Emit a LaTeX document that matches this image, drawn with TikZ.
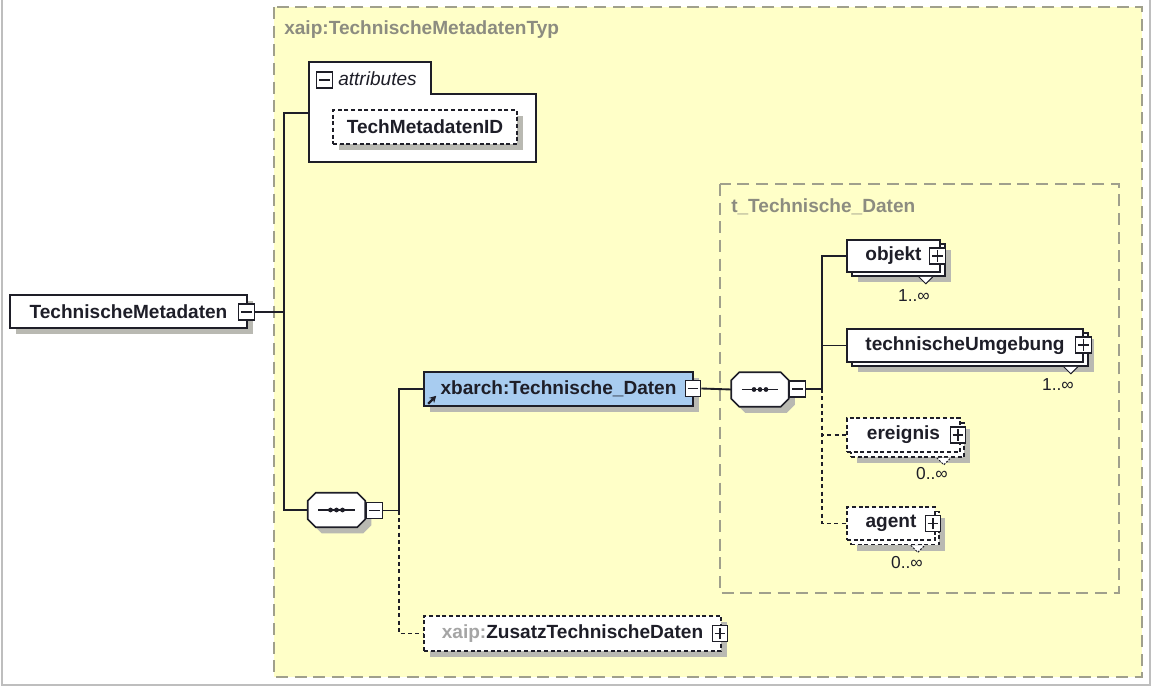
\documentclass[tikz,border=0pt]{standalone}
\usepackage{fontspec}
\setmainfont{Liberation Sans}
\usetikzlibrary{shadows,arrows.meta}
\definecolor{typefill}{RGB}{255,255,200}
\definecolor{typeline}{RGB}{160,160,140}
\definecolor{typetext}{RGB}{140,140,128}
\definecolor{nsgray}{RGB}{165,165,165}
\definecolor{elemblue}{RGB}{168,204,240}
\definecolor{ink}{RGB}{30,30,40}
\definecolor{shadowc}{RGB}{185,185,178}
\definecolor{framec}{RGB}{190,190,190}
\tikzset{
  bw/.style={minimum width=#1*0.75pt},
  bh/.style={minimum height=#1*0.75pt},
  elname/.style={font=\fontsize{14.3}{16}\selectfont\bfseries, text=ink},
  elbox/.style={draw=ink, line width=1.2pt, fill=white, inner sep=0pt, elname},
  shad/.style={drop shadow={shadow xshift=4.5pt, shadow yshift=-4.5pt, fill=shadowc, opacity=1}},
  optbox/.style={elbox, dash pattern=on 3pt off 2pt},
  sign/.style={draw=ink, line width=0.9pt, fill=white, inner sep=0pt, minimum width=11.5pt, minimum height=12pt},
  minusbox/.style={sign, path picture={\draw[ink, line width=0.9pt] ([xshift=1.8pt]path picture bounding box.west) -- ([xshift=-1.8pt]path picture bounding box.east);}},
  plusbox/.style={sign, path picture={\draw[ink, line width=0.9pt] ([xshift=1.8pt]path picture bounding box.west) -- ([xshift=-1.8pt]path picture bounding box.east); \draw[ink, line width=0.9pt] ([yshift=1.8pt]path picture bounding box.south) -- ([yshift=-1.8pt]path picture bounding box.north);}},
  seqnode/.style={rectangle, draw=none, inner sep=0pt, bw=57, bh=34},
  seqline/.style={draw=ink, line width=1.2pt, fill=white},
  conn/.style={draw=ink, line width=1.4pt},
  optconn/.style={draw=ink, line width=1.4pt, dash pattern=on 3pt off 2.5pt},
  typebox/.style={draw=typeline, line width=1.1pt, dash pattern=on 9pt off 5pt, fill=typefill},
  typelabel/.style={font=\fontsize{14.3}{16}\selectfont\bfseries, text=typetext, anchor=west, inner sep=0pt},
  mult/.style={font=\fontsize{13}{15}\selectfont, text=ink, inner sep=0pt},
  notch/.style={draw=ink, line width=0.7pt, fill=white},
}
% octagon outline around a node, shifted by (#2,#3) px
\newcommand\octpath[3]{([shift={(8+#2,#3)}]#1.north west) -- ([shift={(-8+#2,#3)}]#1.north east) -- ([shift={(#2,8+#3)}]#1.north east) -- ([shift={(#2,-8+#3)}]#1.south east) -- ([shift={(-8+#2,#3)}]#1.south east) -- ([shift={(8+#2,#3)}]#1.south west) -- ([shift={(#2,-8+#3)}]#1.south west) -- ([shift={(#2,8+#3)}]#1.north west) -- cycle}
\newcommand\seqdraw[1]{%
  \fill[shadowc] \octpath{#1}{6}{6};
  \draw[seqline] \octpath{#1}{0}{0};
  \draw[ink, line width=1.2pt] ([xshift=8pt]#1.west) -- ([xshift=-8pt]#1.east);
  \foreach \d in {-4.5pt,0pt,4.5pt} \fill[ink] ([xshift=\d]#1.center) circle (1.8pt);
}
\begin{document}
\begin{tikzpicture}[x=0.75pt,y=-0.75pt]
\fill[white] (0,0) rectangle (1163,691);
\useasboundingbox (0,0) rectangle (1163,691);
\draw[framec, line width=1pt] (2,0) -- (2,685) -- (1150,685) -- (1150,0);

% type boxes
\draw[typebox] (274,7) rectangle (1142,677);
\node[typelabel] (tlab1) at (284,30) {xaip:TechnischeMetadatenTyp};
\draw[typebox] (720,184) rectangle (1119,593);
\node[typelabel] (tlab2) at (731,207) {t\_Technische\_Daten};

% root element
\node[elbox, shad, bw=237, bh=33] (tm) at (128.5,311.5) {TechnischeMetadaten};
\node[minusbox] (tmm) at (246.5,312) {};

% attributes group
\draw[draw=ink, line width=1.2pt, fill=white] (309,162) -- (309,62) -- (431,62) -- (431,94) -- (536,94) -- (536,162) -- cycle;
\coordinate (attrin) at (309,113);
\node[minusbox] (attrm) at (324.5,80) {};
\node[font=\fontsize{14.3}{16}\selectfont\itshape, text=ink, anchor=west, inner sep=0pt] (attrlbl) at (338,79) {attributes};
\node[optbox, shad, bw=184, bh=34] (techid) at (425,127) {TechMetadatenID};

% first sequence
\node[seqnode] (seq1) at (336.5,510) {};
\seqdraw{seq1}
\node[minusbox] (s1m) at (374.5,510.5) {};
\coordinate (j1) at (284,312);
\coordinate (j2) at (399,510.5);

% xbarch element
\node[elbox, fill=elemblue, shad, bw=269, bh=34] (xb) at (558.5,389) {xbarch:Technische\_Daten};
\node[minusbox] (xbm) at (693,388.5) {};
\draw[ink, line width=1.6pt, -{Stealth[length=5pt,width=5.5pt]}] ([shift={(5,-3)}]xb.south west) -- ([shift={(13,-11)}]xb.south west);

% Zusatz element
\node[optbox, shad, bw=297, bh=35] (zus) at (572.5,633.5) {\textcolor{nsgray}{xaip:}ZusatzTechnischeDaten};
\node[plusbox] (zusp) at (720,633.5) {};

% second sequence
\node[seqnode] (seq2) at (760,389.5) {};
\seqdraw{seq2}
\node[minusbox] (s2m) at (797.5,389) {};
\coordinate (j3) at (822,389);

% children
\node[elbox, shad, bw=93, bh=32] (objbk) at (898.5,260) {};
\draw[notch] ([shift={(-27,0)}]objbk.south east) -- ([shift={(-20,7)}]objbk.south east) -- ([shift={(-13,0)}]objbk.south east);
\node[elbox, bw=93, bh=32] (obj) at (893.5,256) {objekt};
\node[plusbox] (objp) at (937.5,256) {};
\node[mult] (objm) at (914,296) {1..∞};

\node[elbox, shad, bw=236, bh=33] (tubk) at (970,349.5) {};
\draw[notch] ([shift={(-25,0)}]tubk.south east) -- ([shift={(-18,7)}]tubk.south east) -- ([shift={(-11,0)}]tubk.south east);
\node[elbox, bw=236, bh=33] (tu) at (965,345.5) {technischeUmgebung};
\node[plusbox] (tup) at (1083.5,345) {};
\node[mult] (tum) at (1058,385) {1..∞};

\node[optbox, shad, bw=113, bh=34] (erbk) at (907.5,440) {};
\draw[notch, dash pattern=on 1.5pt off 1pt] ([shift={(-28,0)}]erbk.south east) -- ([shift={(-21,7)}]erbk.south east) -- ([shift={(-14,0)}]erbk.south east);
\node[optbox, bw=113, bh=34] (er) at (903.5,435) {ereignis};
\node[plusbox] (erp) at (958,435) {};
\node[mult] (erm) at (932,474) {0..∞};

\node[optbox, shad, bw=88, bh=33] (agbk) at (895,528) {};
\draw[notch, dash pattern=on 1.5pt off 1pt] ([shift={(-29,0)}]agbk.south east) -- ([shift={(-22,7)}]agbk.south east) -- ([shift={(-15,0)}]agbk.south east);
\node[optbox, bw=88, bh=33] (ag) at (891,523.5) {agent};
\node[plusbox] (agp) at (933,523.5) {};
\node[mult] (agm) at (907,563) {0..∞};

% connectors
\draw[conn] (tmm.east) -- (j1);
\draw[conn] (attrin) -| (j1);
\draw[conn] (j1) |- (seq1.west);
\draw[conn] (s1m.east) -- (j2);
\draw[conn] (j2) |- (xb.west);
\draw[optconn] (j2) |- (zus.west);
\draw[conn] (xbm.east) -- (seq2.west);
\draw[conn] (s2m.east) -- (j3);
\draw[conn] (j3) |- (obj.west);
\draw[conn] (j3) |- (tu.west);
\draw[optconn] (j3) |- (er.west);
\draw[optconn] (j3) |- (ag.west);
\end{tikzpicture}
\end{document}
